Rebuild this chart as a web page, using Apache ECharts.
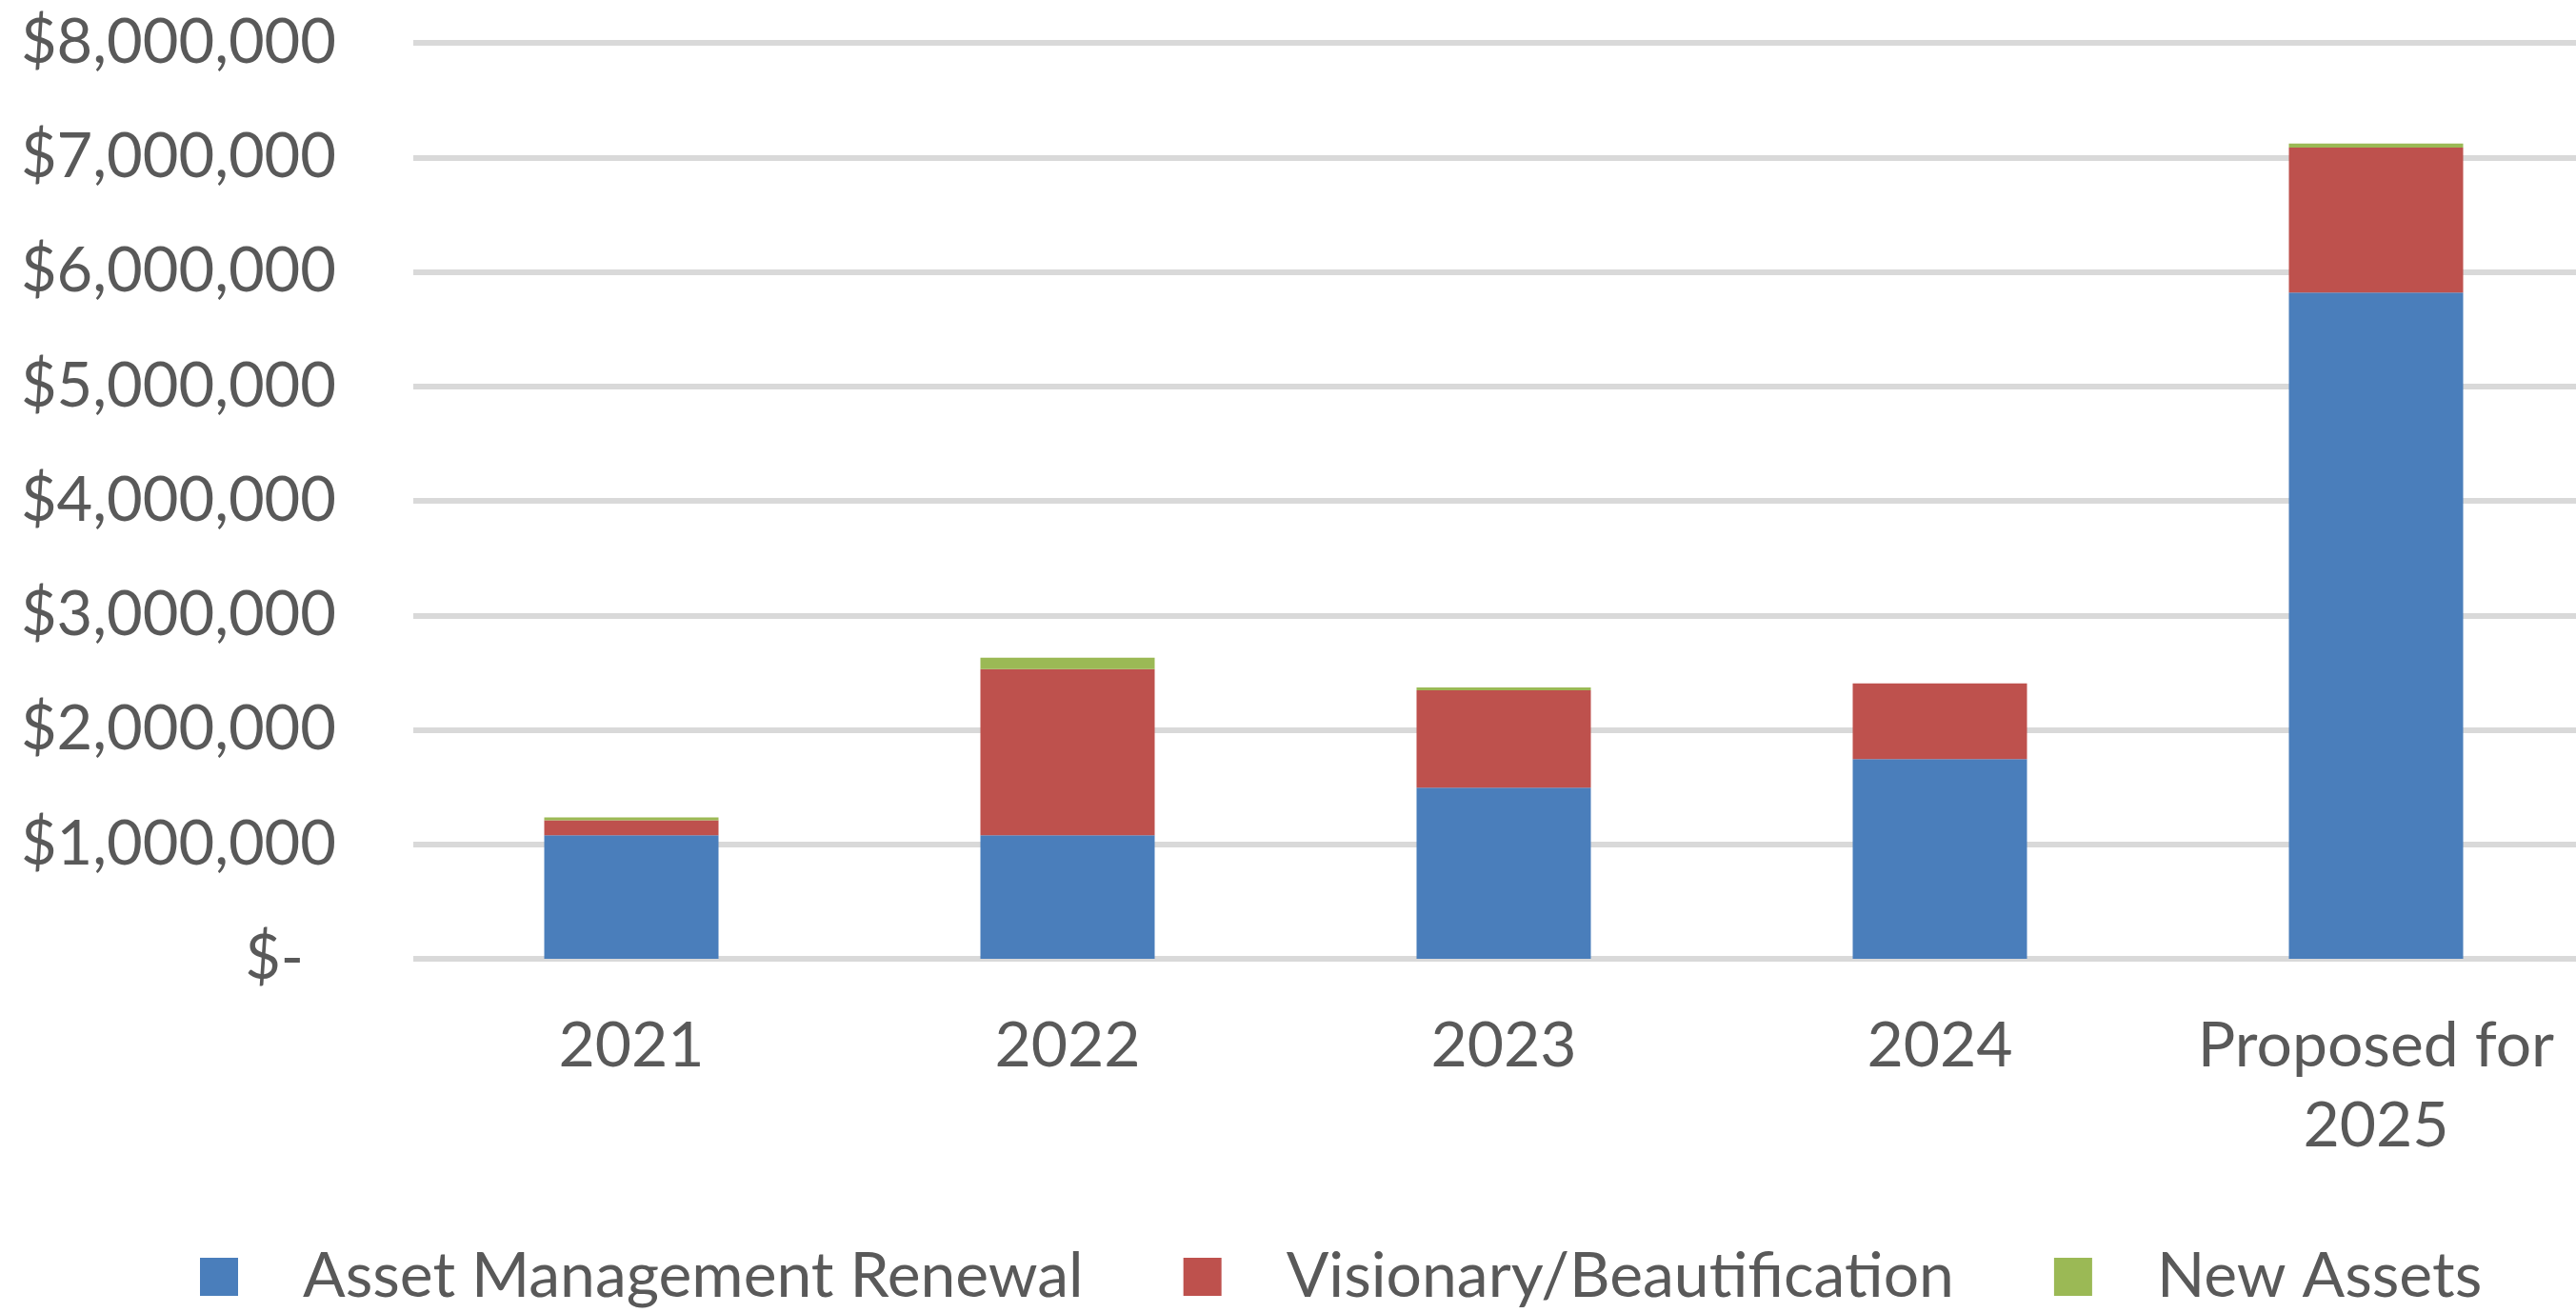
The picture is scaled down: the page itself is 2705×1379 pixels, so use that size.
<!DOCTYPE html>
<html>
<head>
<meta charset="utf-8">
<script src="https://cdn.jsdelivr.net/npm/echarts@6/dist/echarts.min.js"></script>
<style>
  html, body { margin: 0; padding: 0; background: #fff; overflow: hidden; }
  #chart { width: 2730px; height: 1379px; }
</style>
</head>
<body>
<div id="chart"></div>
<script>
  // categories and series values
  var categories = ['2021', '2022', '2023', '2024', 'Proposed for\n2025'];
  var assetRenewal = [1080000, 1080000, 1495000, 1745000, 5820000];
  var visionary = [130000, 1450000, 850000, 660000, 1265000];
  var newAssets = [25000, 100000, 25000, 0, 35000];

  var textColor = '#595959';
  var fontFamily = 'Lato';

  var myChart = echarts.init(document.getElementById('chart'));
  var option = {
    animation: false,
    backgroundColor: '#ffffff',
    grid: {
      left: 434,
      top: 45,
      right: 6,
      bottom: 372
    },
    legend: {
      left: 205,
      top: 1303,
      itemWidth: 40,
      itemHeight: 40,
      itemGap: 105,
      icon: 'rect',
      textStyle: {
        color: textColor,
        fontFamily: fontFamily,
        fontSize: 66,
        padding: [0, 0, 0, 63]
      },
      data: ['Asset Management Renewal', 'Visionary/Beautification', 'New Assets']
    },
    xAxis: {
      type: 'category',
      data: categories,
      axisLine: { show: false },
      axisTick: { show: false },
      axisLabel: {
        interval: 0,
        margin: 50,
        color: textColor,
        fontFamily: fontFamily,
        fontSize: 66,
        lineHeight: 84
      }
    },
    yAxis: {
      type: 'value',
      min: 0,
      max: 8000000,
      interval: 1000000,
      axisLine: { show: false },
      axisTick: { show: false },
      splitLine: {
        lineStyle: { color: '#d9d9d9', width: 6 }
      },
      axisLabel: {
        margin: 81,
        color: textColor,
        fontFamily: fontFamily,
        fontSize: 65,
        formatter: function (v) {
          if (v === 0) {
            return '{dash|$-}';
          }
          return '$' + v.toLocaleString('en-US');
        },
        rich: {
          dash: {
            color: textColor,
            fontFamily: fontFamily,
            fontSize: 65,
            padding: [0, 34, 0, 0]
          }
        }
      }
    },
    series: [
      {
        name: 'Asset Management Renewal',
        type: 'bar',
        stack: 'total',
        barWidth: 183,
        itemStyle: { color: '#4a7ebb' },
        data: assetRenewal
      },
      {
        name: 'Visionary/Beautification',
        type: 'bar',
        stack: 'total',
        barWidth: 183,
        itemStyle: { color: '#be514d' },
        data: visionary
      },
      {
        name: 'New Assets',
        type: 'bar',
        stack: 'total',
        barWidth: 183,
        itemStyle: { color: '#9bb955' },
        data: newAssets
      }
    ]
  };
  myChart.setOption(option);
</script>
</body>
</html>
